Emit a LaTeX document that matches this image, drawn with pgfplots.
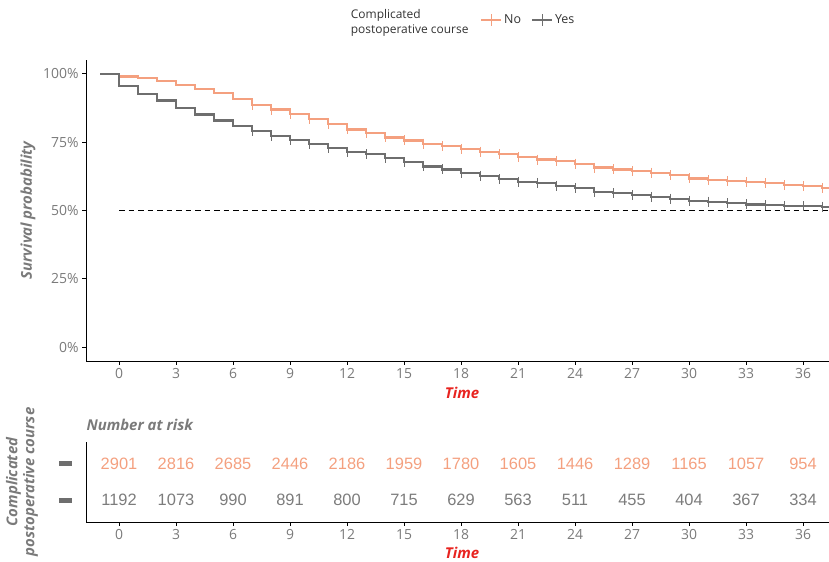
\documentclass[border=0pt]{standalone}
\usepackage{fontspec}
\setmainfont{Open Sans}
\newfontfamily\arialfont{Liberation Sans}
\usepackage{pgfplots}
\pgfplotsset{compat=1.18}
\definecolor{cOr}{HTML}{F4A07F}
\definecolor{cGr}{HTML}{6E6E6E}
\definecolor{cTxt}{HTML}{7A7A7A}
\definecolor{cRed}{HTML}{E8231F}
\begin{document}
\begin{tikzpicture}[x=1bp,y=1bp]
\useasboundingbox (0,0) rectangle (829,562);
\pgfplotsset{
  kmaxis/.style={
    width=752bp, scale only axis,
    xmin=-1.737, xmax=37.84,
    axis x line*=bottom, axis y line*=left,
    axis line style={black, line width=0.9bp, -},
    xtick={0,3,...,36},
    tick align=outside, major tick length=4bp,
    tick style={black, line width=0.9bp},
    /pgf/number format/assume math mode=true,
    ticklabel style={font=\fontsize{14}{14}\selectfont, text=cTxt},
    clip=true,
  }
}
\begin{axis}[kmaxis,
  at={(86bp,201bp)}, anchor=south west,
  height=301bp,
  ymin=-5, ymax=105,
  ytick={0,25,50,75,100},
  yticklabels={0\%,25\%,50\%,75\%,100\%},
  xlabel={Time},
  xlabel style={at={(axis description cs:0.5,0)}, anchor=center, yshift=-32bp,
    font=\fontsize{15}{15}\selectfont\bfseries\itshape, text=cRed},
  ylabel={Survival probability},
  ylabel style={at={(axis description cs:-0.077,0.5)}, anchor=center, rotate=0,
    font=\fontsize{15}{15}\selectfont\bfseries\itshape, text=cTxt},
  legend columns=2,
  legend style={at={(0.52,1.133)}, anchor=west, draw=none, fill=none,
    font=\fontsize{12.5}{12.5}\selectfont, text=black!80,
    /tikz/every even column/.append style={column sep=8bp}},
  legend image code/.code={
    \draw[#1, line width=2bp] (0bp,0bp) -- (20bp,0bp);
    \draw[#1, line width=1bp] (10bp,-6bp) -- (10bp,6bp);},
]
\addplot[black, line width=1.4bp, dash pattern=on 5.5bp off 4bp, forget plot]
  coordinates {(0,50) (38,50)};
\addplot[const plot, color=cOr, line width=2.2bp, mark=none] coordinates {
(-1,100) (0,99.0) (1,98.3) (2,97.2) (3,96.0) (4,94.4) (5,93.0) (6,90.8) (7,88.6)
(8,86.9) (9,85.2) (10,83.3) (11,81.5) (12,79.6) (13,78.2) (14,76.7) (15,75.6)
(16,74.4) (17,73.6) (18,72.5) (19,71.5) (20,70.5) (21,69.5) (22,68.6) (23,68.1)
(24,67.1) (25,65.7) (26,65.0) (27,64.4) (28,63.8) (29,62.9) (30,61.7) (31,61.1)
(32,60.7) (33,60.5) (34,59.9) (35,59.3) (36,58.9) (37,58.3) (38,58.3)};
\addlegendentry{No}
\addplot[const plot, color=cGr, line width=2.2bp, mark=none] coordinates {
(-1,100) (0,95.6) (1,92.6) (2,90.2) (3,87.5) (4,85.1) (5,82.9) (6,80.9) (7,79.0)
(8,77.2) (9,75.8) (10,74.3) (11,72.8) (12,71.4) (13,70.5) (14,69.1) (15,67.6)
(16,66.1) (17,65.0) (18,63.7) (19,62.7) (20,61.5) (21,60.5) (22,60.1) (23,59.0)
(24,58.3) (25,56.8) (26,56.3) (27,55.6) (28,55.0) (29,54.3) (30,53.6) (31,53.2)
(32,52.6) (33,52.2) (34,52.0) (35,51.7) (36,51.6) (37,51.4) (38,51.4)};
\addlegendentry{Yes}
\addplot[only marks, mark=|, mark size=5bp, color=cOr, mark options={line width=1bp}, forget plot] coordinates {
(7,88.6) (8,86.9) (9,85.2) (10,83.3) (11,81.5) (12,79.6) (13,78.2) (14,76.7) (15,75.6)
(16,74.4) (17,73.6) (18,72.5) (19,71.5) (20,70.5) (21,69.5) (22,68.6) (23,68.1)
(24,67.1) (25,65.7) (26,65.0) (27,64.4) (28,63.8) (29,62.9) (30,61.7) (31,61.1)
(32,60.7) (33,60.5) (34,59.9) (35,59.3) (36,58.9) (37,58.3)};
\addplot[only marks, mark=|, mark size=5bp, color=cGr, mark options={line width=1bp}, forget plot] coordinates {
(7,79.0) (8,77.2) (9,75.8) (10,74.3) (11,72.8) (12,71.4) (13,70.5) (14,69.1) (15,67.6)
(16,66.1) (17,65.0) (18,63.7) (19,62.7) (20,61.5) (21,60.5) (22,60.1) (23,59.0)
(24,58.3) (25,56.8) (26,56.3) (27,55.6) (28,55.0) (29,54.3) (30,53.6) (31,53.2)
(32,52.6) (33,52.2) (34,52.0) (35,51.7) (36,51.6) (37,51.4)};
\end{axis}
\node[anchor=east, align=left, font=\fontsize{12}{14.5}\selectfont, text=black!80] at (472,539)
  {Complicated\\postoperative course};
\node[anchor=west, font=\fontsize{15}{15}\selectfont\bfseries\itshape, text=cTxt] at (83,137) {Number at risk};
\begin{axis}[kmaxis,
  at={(86bp,40bp)}, anchor=south west,
  height=80bp,
  ymin=0.4, ymax=2.6,
  ytick={1,2},
  yticklabels={\textcolor{cGr}{\rule{13bp}{5bp}},\textcolor{cGr}{\rule{13bp}{5bp}}},
  y tick style={draw=none},
  yticklabel style={xshift=-6bp},
  xlabel={Time},
  xlabel style={at={(axis description cs:0.5,0)}, anchor=center, yshift=-31bp,
    font=\fontsize{15}{15}\selectfont\bfseries\itshape, text=cRed},
  ylabel={Complicated\\postoperative course},
  ylabel style={at={(axis description cs:-0.085,0.5)}, anchor=center, align=center,
    font=\fontsize{15}{17}\selectfont\bfseries\itshape, text=cTxt},
  point meta=explicit symbolic,
  nodes near coords,
  nodes near coords align=center,
]
\addplot[draw=none, mark=none, nodes near coords style={text=cOr, anchor=center, font=\arialfont\fontsize{16.5}{16.5}\selectfont}] coordinates {
(0,2) [2901] (3,2) [2816] (6,2) [2685] (9,2) [2446] (12,2) [2186] (15,2) [1959] (18,2) [1780]
(21,2) [1605] (24,2) [1446] (27,2) [1289] (30,2) [1165] (33,2) [1057] (36,2) [954]};
\addplot[draw=none, mark=none, nodes near coords style={text=cGr!90, anchor=center, font=\arialfont\fontsize{16.5}{16.5}\selectfont}] coordinates {
(0,1) [1192] (3,1) [1073] (6,1) [990] (9,1) [891] (12,1) [800] (15,1) [715] (18,1) [629]
(21,1) [563] (24,1) [511] (27,1) [455] (30,1) [404] (33,1) [367] (36,1) [334]};
\end{axis}
\end{tikzpicture}
\end{document}
